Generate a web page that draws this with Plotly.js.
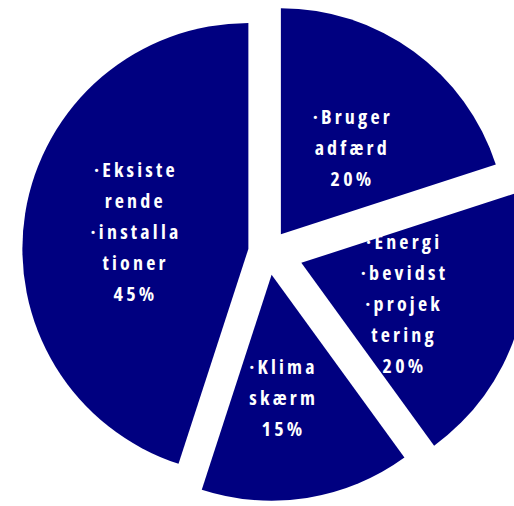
<!DOCTYPE html>
<html>
<head>
<meta charset="utf-8">
<script src="https://cdn.plot.ly/plotly-3.0.1.min.js"></script>
<style>
  html, body { margin: 0; padding: 0; width: 514px; height: 506px; overflow: hidden; background: #ffffff; }
  #chart { position: absolute; left: 7px; top: -9px; }
  #chart .annotation-text { font-stretch: 75%; letter-spacing: 3.2px; }
</style>
</head>
<body>
<div id="chart"></div>
<script>
// Slices in clockwise order starting at 12 o'clock
const categories = ['Brugeradfærd', 'Energibevidst projektering', 'Klimaskærm', 'Eksisterende installationer'];
const labelLines = [
  ['·Bruger', 'adfærd'],
  ['·Energi', '·bevidst', '·projek', 'tering'],
  ['·Klima', 'skærm'],
  ['·Eksiste', 'rende', '·installa', 'tioner']
];
const shares = [20, 20, 15, 45];

// styling / placement config (not data)
const pulls = [0.097, 0.155, 0.102, 0.088];
const navy = '#000080';
const labelRadius = [0.50, 0.49, 0.545, 0.505];   // fraction of radius from slice apex
const labelAngleShift = [3.5, 3.5, 3.5, 0];       // degrees, clockwise
const lineGapPx = 31;
const sizePx = 522;

const total = shares.reduce((a, b) => a + b, 0);
const maxPull = Math.max(...pulls);
const rFrac = 1 / (2 + 2 * maxPull);   // pie radius as a fraction of the plot size
const lineGap = lineGapPx / sizePx;

const annotations = [];
let cum = 0;
shares.forEach((v, i) => {
  const mid = 2 * Math.PI * (cum + v / 2) / total;
  cum += v;
  const ax = 0.5 + pulls[i] * rFrac * Math.sin(mid);
  const ay = 0.5 + pulls[i] * rFrac * Math.cos(mid);
  const a2 = mid + labelAngleShift[i] * Math.PI / 180;
  const lx = ax + labelRadius[i] * rFrac * Math.sin(a2);
  const ly = ay + labelRadius[i] * rFrac * Math.cos(a2);
  const lines = labelLines[i].concat([Math.round(100 * v / total) + '%']);
  const n = lines.length;
  lines.forEach((t, k) => {
    annotations.push({
      xref: 'paper', yref: 'paper',
      x: lx, y: ly + ((n - 1) / 2 - k) * lineGap,
      xanchor: 'center', yanchor: 'middle',
      text: t, showarrow: false,
      font: { family: '"Open Sans", "DejaVu Sans", sans-serif', size: 20, color: '#ffffff', weight: 'bold' }
    });
  });
});

const data = [{
  type: 'pie',
  labels: categories,
  values: shares,
  pull: pulls,
  sort: false,
  direction: 'clockwise',
  rotation: 0,
  marker: { colors: categories.map(() => navy), line: { width: 0 } },
  textinfo: 'none',
  hoverinfo: 'skip',
  showlegend: false,
  domain: { x: [0, 1], y: [0, 1] }
}];

const layout = {
  width: sizePx,
  height: sizePx,
  margin: { l: 0, r: 0, t: 0, b: 0, pad: 0 },
  paper_bgcolor: '#ffffff',
  plot_bgcolor: '#ffffff',
  showlegend: false,
  annotations: annotations
};

Plotly.newPlot('chart', data, layout, { staticPlot: true, displayModeBar: false });
</script>
</body>
</html>
